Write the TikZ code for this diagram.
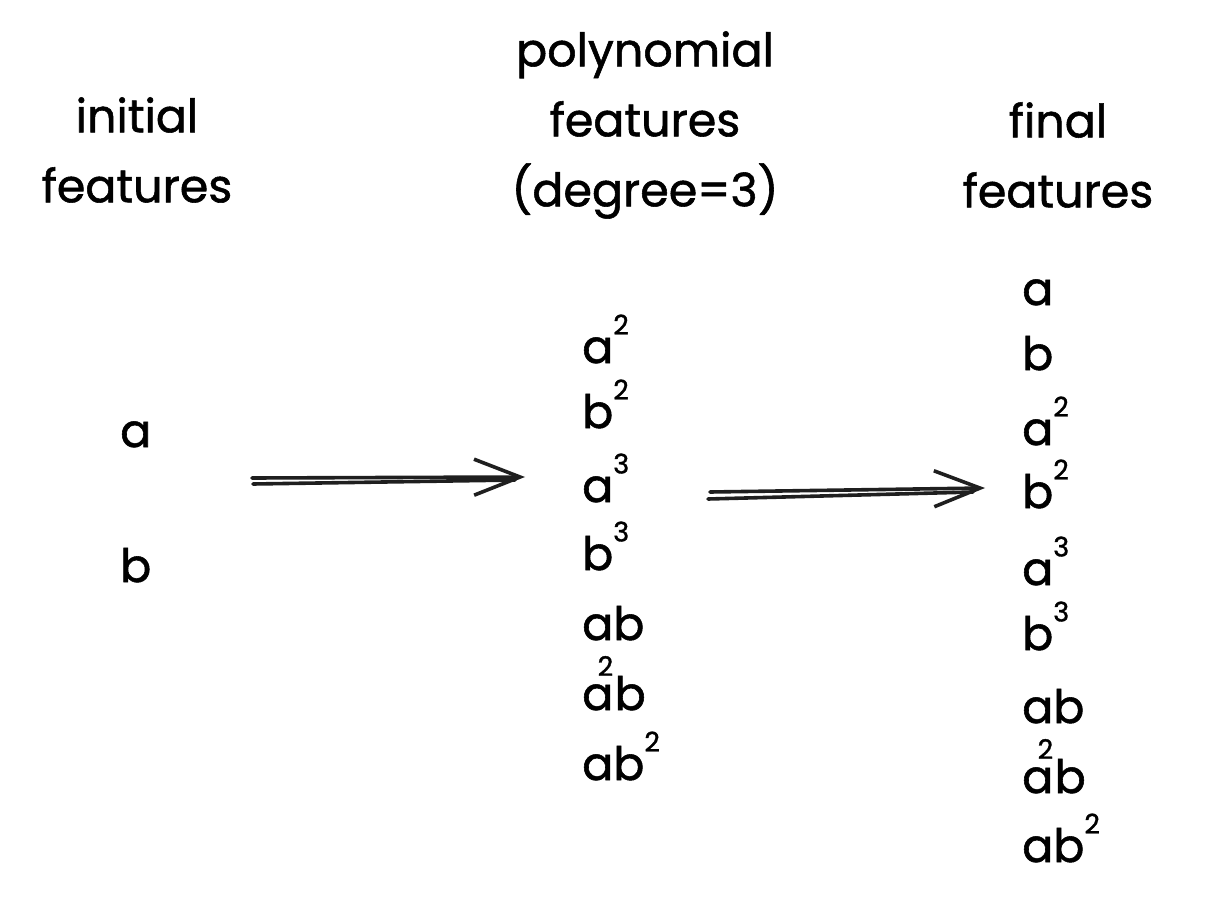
\documentclass[tikz,border=0pt]{standalone}
\usepackage{fontspec}
\setmainfont{Poppins}[FakeBold=1.2]
\usetikzlibrary{arrows.meta,calc}
\newcommand{\spw}[1]{\raisebox{0.62em}{\fontsize{27}{27}\selectfont #1}}
\newcommand{\pre}[1]{a\rlap{\kern-0.34em\raisebox{0.74em}{\fontsize{27}{27}\selectfont #1}}\kern0.03em b}
\begin{document}
\begin{tikzpicture}[x=1pt,y=-1pt,
  lbl/.style={font=\fontsize{46}{70}\selectfont, inner sep=0pt, align=center},
  itm/.style={font=\fontsize{46}{46}\selectfont, inner sep=0pt, anchor=base west},
  conn/.style={line width=3.6pt, line cap=round, draw=black!88},
  tip/.style={conn, -{Straight Barb[length=46pt,width=36pt,line width=3.6pt]}}]
\useasboundingbox (0,0) rectangle (1205,904);
% titles
\node[lbl] (t1) at (137,150) {initial\\features};
\node[lbl] (t2) at (645,125) {polynomial\\features\\(degree=3)};
\node[lbl] (t3) at (1058,155) {final\\features};
% left column
\node[itm] (la) at (120,447) {a};
\node[itm] (lb) at (120,582) {b};
% middle column
\node[itm] (m1) at (582,363) {a\spw{2}};
\node[itm] (m2) at (582,428) {b\spw{2}};
\node[itm] (m3) at (582,502) {a\spw{3}};
\node[itm] (m4) at (582,570) {b\spw{3}};
\node[itm] (m5) at (582,640) {ab};
\node[itm] (m6) at (582,710) {\pre{2}};
\node[itm] (m7) at (582,780) {ab\spw{2}};
% right column
\node[itm] (r1) at (1022,305) {a};
\node[itm] (r2) at (1022,370) {b};
\node[itm] (r3) at (1022,445) {a\spw{2}};
\node[itm] (r4) at (1022,508) {b\spw{2}};
\node[itm] (r5) at (1022,585) {a\spw{3}};
\node[itm] (r6) at (1022,650) {b\spw{3}};
\node[itm] (r7) at (1022,723) {ab};
\node[itm] (r8) at (1022,793) {\pre{2}};
\node[itm] (r9) at (1022,862) {ab\spw{2}};
% arrows
\coordinate (a1s) at (252,478);
\coordinate (a1s2) at (253,484);
\coordinate (a1e) at (525,477);
\coordinate (a2s) at (710,492);
\coordinate (a2s2) at (708,499);
\coordinate (a2e) at (985,488);
\draw[tip] (a1s) -- (a1e);
\draw[conn] (a1s2) -- ($(a1e)+(-10,3)$);
\draw[tip] (a2s) -- (a2e);
\draw[conn] (a2s2) -- ($(a2e)+(-12,4)$);
\end{tikzpicture}
\end{document}
